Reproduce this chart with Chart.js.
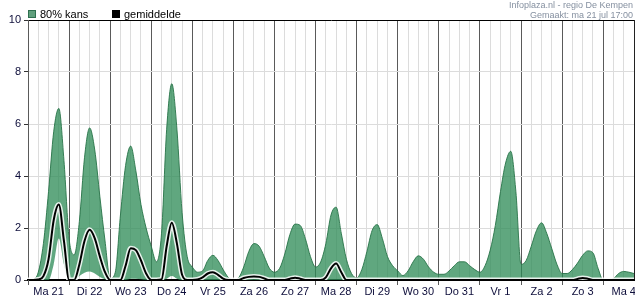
<!DOCTYPE html>
<html><head><meta charset="utf-8">
<script src="https://cdn.jsdelivr.net/npm/chart.js@4"></script>
<style>html,body{margin:0;padding:0;background:#fff}canvas{display:block}</style>
</head><body>
<canvas id="c" width="635" height="300"></canvas>
<script>
const dayLabels = ['Ma 21','Di 22','Wo 23','Do 24','Vr 25','Za 26','Zo 27','Ma 28','Di 29','Wo 30','Do 31','Vr 1','Za 2','Zo 3','Ma 4'];
const yTickValues = [0,2,4,6,8,10];
const legendLabels = ['80% kans','gemiddelde'];
const sourceLines = ['Infoplaza.nl - regio De Kempen','Gemaakt: ma 21 jul 17:00'];

const hours = [
  0,3,6,9,12,15,18,21,
  24,27,30,33,36,39,42,45,
  48,51,54,57,60,63,66,69,
  72,75,78,81,84,87,90,93,
  96,99,102,105,108,111,114,117,
  120,123,126,129,132,135,138,141,
  144,147,150,153,156,159,162,165,
  168,171,174,177,180,183,186,189,
  192,195,198,201,204,207,210,213,
  216,219,222,225,228,231,234,237,
  240,243,246,249,252,255,258,261,
  264,267,270,273,276,279,282,285,
  288,291,294,297,300,303,306,309,
  312,315,318,321,324,327,330,333,
  336,339,342,345,348,351,354
];
const upper = [
  0,0.02,0.3,1.4,3.4,5.7,6.6,4.6,
  1.6,0.97,2.25,4.7,5.85,5.0,3.2,1.5,
  0.05,0.3,2.5,4.4,5.15,4.2,2.9,2.0,
  1.3,0.7,1.8,5.8,7.55,5.8,2.6,0.9,
  0.5,0.3,0.35,0.75,0.95,0.75,0.4,0.1,
  0,0.08,0.5,1.1,1.4,1.3,0.9,0.45,
  0.3,0.45,1.0,1.75,2.15,2.1,1.6,0.9,
  0.5,0.7,1.4,2.5,2.8,1.8,0.8,0.25,
  0.08,0.4,1.1,1.9,2.13,1.6,0.9,0.55,
  0.35,0.17,0.35,0.7,0.93,0.8,0.5,0.3,
  0.22,0.22,0.35,0.55,0.7,0.7,0.55,0.4,
  0.3,0.55,1.15,2.1,3.4,4.5,4.95,3.4,
  0.6,0.75,1.3,1.9,2.2,1.8,1.2,0.6,
  0.25,0.25,0.4,0.65,0.95,1.12,1.05,0.45,
  0,0,0.05,0.25,0.33,0.3,0.25
];
const lower = [
  0,0,0,0,0,0.6,1.6,0.6,
  0,0,0.15,0.28,0.33,0.25,0.12,0.03,
  0,0,0,0,0.05,0.05,0.03,0,
  0,0,0,0.05,0.15,0.05,0,0,
  0,0,0,0,0,0,0,0,
  0,0,0,0,0,0,0,0,
  0,0,0,0,0,0,0,0,
  0,0,0,0,0,0,0,0,
  0,0,0,0,0,0,0,0,
  0,0,0,0,0,0,0,0,
  0,0,0,0,0,0,0,0,
  0,0,0,0,0,0,0,0,
  0,0,0,0,0,0,0,0,
  0,0,0,0,0,0,0,0,
  0,0,0,0,0,0,0
];
const mean = [
  0,0,0.02,0.15,0.8,2.3,2.9,1.5,
  0,0,0.6,1.5,1.93,1.6,0.9,0.3,
  0,0,0,0.55,1.22,1.15,0.75,0.25,
  0,0,0.02,1.3,2.2,1.4,0.2,0,
  0,0.02,0.1,0.25,0.3,0.2,0.05,0,
  0,0,0.08,0.12,0.13,0.12,0.06,0,
  0,0,0,0.05,0.09,0.05,0,0,
  0,0,0.1,0.45,0.63,0.3,0,0,
  0,0,0,0,0,0,0,0,
  0,0,0,0,0,0,0,0,
  0,0,0,0,0,0,0,0,
  0,0,0,0,0,0,0,0,
  0,0,0,0,0,0,0,0,
  0,0,0,0.04,0.08,0.05,0,0,
  0,0,0,0,0,0,0
];

const X_MAX = 354;
const bandFill = 'rgba(46,139,87,0.76)';
const labelColor = '#0d0d3a';
const FONT = '"Liberation Sans", Arial, sans-serif';
const pts = arr => arr.map((v, i) => ({x: hours[i], y: v}));

function drawFit(ctx, text, right, y, w) {
  const m = ctx.measureText(text).width;
  const s = Math.min(1, w / m);
  ctx.save();
  ctx.translate(right - m * s, y);
  ctx.scale(s, 1);
  ctx.fillText(text, 0, 0);
  ctx.restore();
}

const overlay = {
  id: 'overlay',
  afterDraw(chart) {
    const ctx = chart.ctx;
    ctx.save();
    ctx.font = '11px ' + FONT;
    ctx.textBaseline = 'alphabetic';
    ctx.textAlign = 'left';
    ctx.fillStyle = 'rgb(96,160,125)';
    ctx.fillRect(28, 10, 8, 8);
    ctx.strokeStyle = '#2f6f4f';
    ctx.lineWidth = 1;
    ctx.strokeRect(28.5, 10.5, 7, 7);
    ctx.fillStyle = '#000';
    ctx.fillText(legendLabels[0], 40, 18);
    ctx.fillRect(112, 10, 8, 8);
    ctx.fillText(legendLabels[1], 124, 18);
    ctx.fillStyle = '#8590a0';
    ctx.font = '9px ' + FONT;
    drawFit(ctx, sourceLines[0], 633, 8, 126);
    drawFit(ctx, sourceLines[1], 633, 17.5, 106);
    ctx.restore();
  }
};

new Chart(document.getElementById('c'), {
  type: 'line',
  data: {
    datasets: [
      {label: 'lower', data: pts(lower), borderColor: 'rgba(0,0,0,0)', borderWidth: 0, fill: false, pointRadius: 0, order: 4},
      {label: legendLabels[0], data: pts(upper), borderColor: 'rgba(40,115,72,0.9)', borderWidth: 1, backgroundColor: bandFill, fill: '-1', pointRadius: 0, order: 3},
      {label: 'halo', data: pts(mean), borderColor: 'rgba(255,255,255,0.85)', borderWidth: 5, fill: false, pointRadius: 0, order: 2},
      {label: legendLabels[1], data: pts(mean), borderColor: '#000', borderWidth: 2, fill: false, pointRadius: 0, order: 1}
    ]
  },
  options: {
    responsive: false,
    animation: false,
    layout: {padding: {top: 20, right: 1, left: 0, bottom: 0}},
    plugins: {legend: {display: false}, tooltip: {enabled: false}},
    elements: {line: {cubicInterpolationMode: 'monotone'}, point: {radius: 0}},
    scales: {
      x: {
        type: 'linear', min: 0, max: X_MAX,
        afterFit(s) { s.height = 20; },
        afterBuildTicks(s) {
          const t = [];
          for (let v = 0; v <= X_MAX; v += 6) t.push({value: v});
          s.ticks = t;
        },
        ticks: {
          autoSkip: false, maxRotation: 0, minRotation: 0, padding: 0,
          color: labelColor, font: {size: 11, family: FONT},
          callback(v) { return (v % 24 === 12) ? dayLabels[(v - 12) / 24] : ''; }
        },
        grid: {
          color: c => (c.tick && c.tick.value % 24 === 0) ? '#5a5a5a' : (c.tick && c.tick.value === X_MAX ? '#222' : '#dcdcdc'),
          tickColor: c => (c.tick && c.tick.value % 24 === 0) ? '#5a5a5a' : 'rgba(0,0,0,0)',
          tickLength: 5, lineWidth: 1
        },
        border: {color: '#000', width: 2}
      },
      y: {
        min: 0, max: 10,
        afterFit(s) { s.width = 28; },
        afterBuildTicks(s) { s.ticks = yTickValues.map(v => ({value: v})); },
        ticks: {padding: 3, color: labelColor, font: {size: 11, family: FONT}},
        grid: {
          color: c => (c.tick && c.tick.value === 10) ? '#000' : '#dcdcdc',
          tickColor: '#333', tickLength: 4
        },
        border: {color: '#5a5a5a', width: 1}
      }
    }
  },
  plugins: [overlay]
});
</script>
</body></html>
